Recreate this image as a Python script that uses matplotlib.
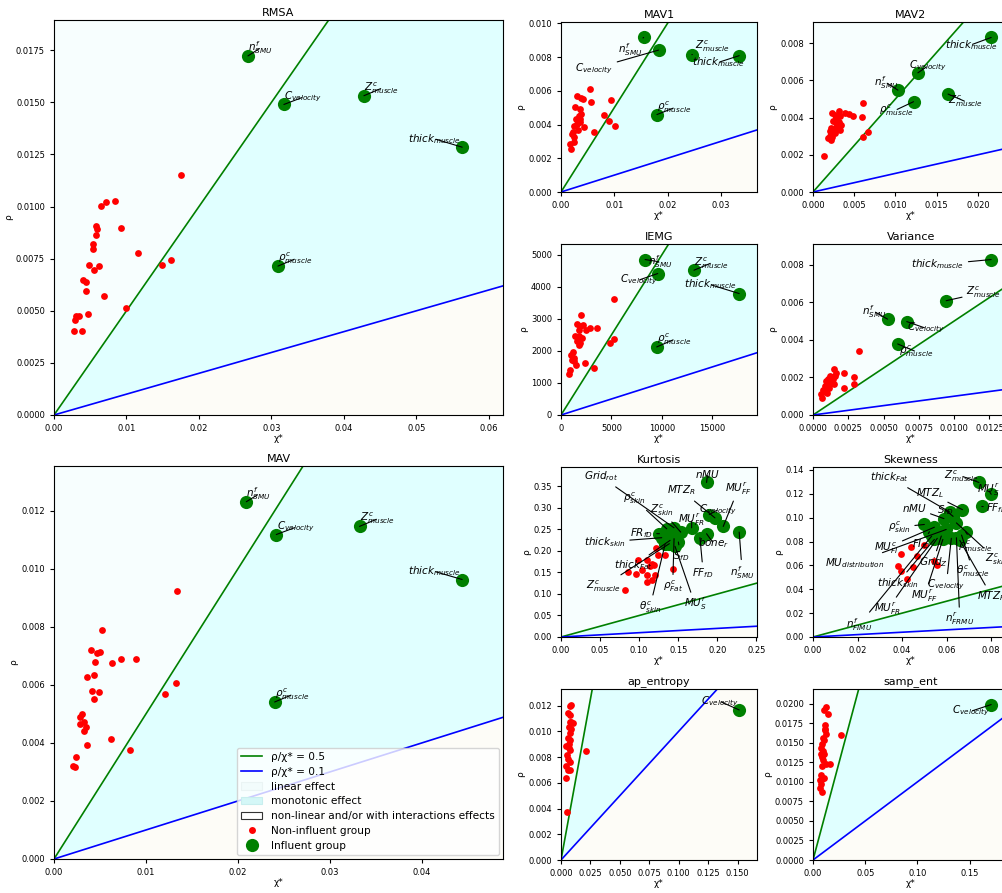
import numpy as np
import matplotlib
matplotlib.use("Agg")
import matplotlib.pyplot as plt
from matplotlib.lines import Line2D
from matplotlib.patches import Patch
from matplotlib.ticker import MultipleLocator

# ---------------------------------------------------------------- data
L_NSMU = r"$n^{f}_{SMU}$"
L_CVEL = r"$C_{velocity}$"
L_ZMUS = r"$Z^{c}_{muscle}$"
L_THM = r"$thick_{muscle}$"
L_RHOM = r"$\rho^{c}_{muscle}$"

# RMSA
rmsa_red_x = [0.01747, 0.00841, 0.00717, 0.00653, 0.00929, 0.00584, 0.00598, 0.00584, 0.00538,
              0.00543, 0.01154, 0.01609, 0.0149, 0.00483, 0.00621, 0.00552, 0.00400, 0.00437,
              0.00437, 0.0069, 0.00993, 0.00469, 0.00345, 0.00308, 0.00294, 0.00271, 0.0039]
rmsa_red_y = [0.01153, 0.01029, 0.01024, 0.01004, 0.00898, 0.00907, 0.00891, 0.00865, 0.00819,
              0.00798, 0.00776, 0.00745, 0.00719, 0.00718, 0.00716, 0.00695, 0.0065, 0.00637,
              0.00597, 0.00572, 0.00512, 0.00483, 0.00477, 0.00474, 0.00454, 0.00403, 0.00405]
rmsa_green_x = [0.02676, 0.03172, 0.04276, 0.05632, 0.0309]
rmsa_green_y = [0.01723, 0.01490, 0.01532, 0.01285, 0.007145]
rmsa_labels = [L_NSMU, L_CVEL, L_ZMUS, L_THM, L_RHOM]

# MAV
mav_red_x = [0.01337, 0.00522, 0.00399, 0.00467, 0.00496, 0.00446, 0.0063, 0.00728, 0.00895,
             0.00362, 0.00431, 0.00409, 0.00486, 0.00438, 0.01203, 0.0133, 0.00308, 0.00279,
             0.00286, 0.00322, 0.00351, 0.0033, 0.00362, 0.00623, 0.00826, 0.00236, 0.00207, 0.00225]
mav_red_y = [0.00922, 0.0079, 0.00719, 0.0071, 0.00712, 0.0068, 0.00677, 0.0069, 0.0069,
             0.00627, 0.00633, 0.00579, 0.00576, 0.00551, 0.00569, 0.00606, 0.005, 0.00488,
             0.00465, 0.00471, 0.00455, 0.0044, 0.00393, 0.00412, 0.00374, 0.00351, 0.00321, 0.00317]
mav_green_x = [0.02091, 0.02417, 0.03322, 0.04438, 0.02399]
mav_green_y = [0.01231, 0.01118, 0.01146, 0.00963, 0.00541]
mav_labels = [L_NSMU, L_CVEL, L_ZMUS, L_THM, L_RHOM]

# MAV1
mav1_red_x = [0.00538, 0.00556, 0.003, 0.00381, 0.00413, 0.00944, 0.00256, 0.0035, 0.00381,
              0.00331, 0.00288, 0.00363, 0.008, 0.00906, 0.01019, 0.00438, 0.00238, 0.00319,
              0.00613, 0.00206, 0.00238, 0.0025, 0.00175, 0.00188, 0.003, 0.0035, 0.00225]
mav1_red_y = [0.00612, 0.00531, 0.00569, 0.00559, 0.00551, 0.00547, 0.00504, 0.00494, 0.00465,
              0.00449, 0.00435, 0.00435, 0.00459, 0.0042, 0.0039, 0.00386, 0.0039, 0.00367,
              0.00355, 0.00341, 0.00324, 0.00294, 0.00282, 0.00255, 0.00402, 0.00416, 0.00357]
mav1_green_x = [0.0155, 0.01831, 0.02456, 0.03344, 0.018]
mav1_green_y = [0.00916, 0.00841, 0.00814, 0.00808, 0.00459]
mav1_labels = [L_NSMU, L_CVEL, L_ZMUS, L_THM, L_RHOM]

# MAV2
mav2_red_x = [0.00133, 0.00604, 0.00596, 0.00664, 0.00604, 0.0031, 0.00233, 0.00262, 0.00386,
              0.00435, 0.00491, 0.00322, 0.00282, 0.00241, 0.00314, 0.00274, 0.00302, 0.00221,
              0.00282, 0.00209, 0.00322, 0.00262, 0.00201, 0.00233, 0.00213, 0.00181, 0.00342]
mav2_red_y = [0.00196, 0.00476, 0.00404, 0.00324, 0.00294, 0.00435, 0.00422, 0.00413, 0.00422,
              0.00419, 0.00408, 0.00408, 0.00396, 0.00383, 0.00378, 0.00369, 0.00355, 0.00342,
              0.00342, 0.0033, 0.00333, 0.00319, 0.00301, 0.00294, 0.0028, 0.00289, 0.0036]
mav2_green_x = [0.0103, 0.01272, 0.01638, 0.02161, 0.01219]
mav2_green_y = [0.00547, 0.0064, 0.00526, 0.0083, 0.00485]
mav2_labels = [L_NSMU, L_CVEL, L_ZMUS, L_THM, L_RHOM]

# IEMG
iemg_red_x = [5275, 2011, 1583, 1912, 2176, 1747, 2506, 2901, 3561, 1418, 1747, 2077, 1583, 1912,
              1747, 4814, 5275, 1187, 989, 1319, 1088, 2407, 1451, 3231, 857, 758, 1319]
iemg_red_y = [3635, 3115, 2833, 2771, 2802, 2646, 2667, 2729, 2719, 2469, 2469, 2417, 2313, 2260,
              2177, 2250, 2385, 1969, 1865, 1792, 1729, 1625, 1552, 1479, 1396, 1271, 1688]
iemg_green_x = [8341, 9594, 13188, 17672, 9495]
iemg_green_y = [4854, 4417, 4521, 3792, 2125]
iemg_labels = [L_NSMU, L_CVEL, L_ZMUS, L_THM, L_RHOM]

# Variance
var_red_x = [0.00324, 0.0015, 0.00223, 0.00288, 0.00288, 0.00218, 0.00164, 0.00122, 0.00145,
             0.00094, 0.00117, 0.00152, 0.00082, 0.00113, 0.0007, 0.00098, 0.00059, 0.00066,
             0.00129, 0.00106, 0.00087, 0.00159]
var_red_y = [0.0034, 0.00244, 0.00221, 0.002, 0.00167, 0.00146, 0.00221, 0.00208, 0.00191,
             0.0018, 0.00167, 0.00167, 0.00155, 0.00141, 0.00132, 0.00119, 0.0011, 0.00093,
             0.002, 0.00194, 0.00128, 0.00207]
var_green_x = [0.00528, 0.00664, 0.00943, 0.01262, 0.006]
var_green_y = [0.0051, 0.00497, 0.00608, 0.00827, 0.00378]
var_labels = [L_NSMU, L_CVEL, L_ZMUS, L_THM, L_RHOM]

# Kurtosis
kurt_red_x = [0.0821, 0.0863, 0.0961, 0.1033, 0.1097, 0.1105, 0.1161, 0.1203, 0.0991, 0.1105,
              0.1161, 0.1212, 0.1246, 0.1331, 0.1437, 0.119, 0.1139]
kurt_red_y = [0.1092, 0.15, 0.1454, 0.1554, 0.1438, 0.1285, 0.1323, 0.1438, 0.1785, 0.1785,
              0.1708, 0.2077, 0.19, 0.19, 0.1577, 0.1669, 0.1654]
kurt_green_x = [0.1862, 0.1896, 0.1969, 0.2075, 0.2279, 0.1862, 0.1777, 0.1671, 0.1446, 0.1352,
                0.1531, 0.1259, 0.1288, 0.1395, 0.1446, 0.1501, 0.1331, 0.1458, 0.1386]
kurt_green_y = [0.3592, 0.2846, 0.2769, 0.2569, 0.2438, 0.24, 0.2308, 0.2538, 0.2538, 0.2515,
                0.2438, 0.24, 0.2308, 0.2246, 0.2285, 0.2208, 0.2154, 0.2108, 0.2169]
kurt_labels = [r"$nMU$", L_CVEL, r"$MTZ_{R}$", r"$MU^{r}_{FF}$", L_NSMU, r"$bone_{r}$",
               r"$FF_{fD}$", r"$MU^{r}_{FR}$", r"$Grid_{rot}$", r"$\rho^{c}_{skin}$",
               r"$Z^{c}_{skin}$", r"$FR_{fD}$", r"$thick_{skin}$", r"$thick_{Fat}$",
               r"$\rho^{c}_{Fat}$", r"$S_{fD}$", r"$\theta^{c}_{skin}$", r"$MU^{r}_{S}$", L_ZMUS]

# Skewness
skew_red_x = [0.0397, 0.0442, 0.05, 0.0465, 0.0383, 0.0394, 0.0447, 0.0421, 0.0545, 0.0558]
skew_red_y = [0.0694, 0.0755, 0.0772, 0.0681, 0.0593, 0.0551, 0.059, 0.0488, 0.0634, 0.0606]
skew_green_x = [0.0745, 0.08, 0.0758, 0.0614, 0.0671, 0.0588, 0.0629, 0.05, 0.0545, 0.0523,
                0.0685, 0.0598, 0.0576, 0.0667, 0.0644, 0.0545, 0.0621, 0.0659, 0.0583, 0.0558,
                0.0644, 0.0533]
skew_green_y = [0.1295, 0.1196, 0.1094, 0.1047, 0.1067, 0.0992, 0.1011, 0.0943, 0.092, 0.0882,
                0.0882, 0.0901, 0.0846, 0.0854, 0.0956, 0.0818, 0.0827, 0.081, 0.0818, 0.0827,
                0.0832, 0.0846]
skew_labels = [L_ZMUS, r"$MU^{r}_{S}$", r"$FF_{fD}$", r"$thick_{Fat}$", r"$MTZ_{L}$", r"$nMU$",
               r"$S_{fD}$", r"$\rho^{c}_{skin}$", r"$MU^{c}_{FI}$", r"$FI_{fD}$", L_RHOM,
               r"$MU_{distribution}$", r"$Grid_{Z}$", r"$\theta^{c}_{muscle}$", r"$Z^{c}_{skin}$",
               r"$thick_{skin}$", L_CVEL, r"$MTZ_{R}$", r"$MU^{r}_{FF}$", r"$MU^{r}_{FR}$",
               r"$n^{r}_{FRMU}$", r"$n^{f}_{FIMU}$"]

# ap_entropy
ape_red_x = [0.0085, 0.0074, 0.0057, 0.008, 0.0074, 0.0102, 0.0065, 0.0085, 0.0074, 0.0057,
             0.008, 0.0045, 0.0068, 0.008, 0.0051, 0.0074, 0.0045, 0.008, 0.0057, 0.0045,
             0.0216, 0.0051, 0.0065, 0.0085, 0.0063]
ape_red_y = [0.01208, 0.012, 0.01141, 0.01123, 0.01071, 0.01068, 0.01032, 0.01019, 0.00986,
             0.0095, 0.00929, 0.00883, 0.00872, 0.00852, 0.00813, 0.00761, 0.00728, 0.00702,
             0.00697, 0.0064, 0.00846, 0.00374, 0.00903, 0.01071, 0.00787]
ape_green_x = [0.1514]
ape_green_y = [0.01166]
ape_labels = [L_CVEL]

# samp_ent
se_red_x = [0.0127, 0.0105, 0.0143, 0.0114, 0.0118, 0.0127, 0.0264, 0.0102, 0.0089, 0.0079,
            0.0095, 0.0102, 0.0086, 0.0095, 0.0159, 0.0127, 0.0083, 0.0079, 0.0102, 0.0064,
            0.0079, 0.007, 0.0086, 0.0111, 0.0095, 0.0073, 0.0089]
se_red_y = [0.01957, 0.01915, 0.01872, 0.01723, 0.0166, 0.01617, 0.01604, 0.01532, 0.01489,
            0.01438, 0.01396, 0.01353, 0.01319, 0.01277, 0.01234, 0.01226, 0.012, 0.01085,
            0.01055, 0.01021, 0.00979, 0.00923, 0.00872, 0.01681, 0.01566, 0.01362, 0.01043]
se_green_x = [0.1707]
se_green_y = [0.01991]
se_labels = [L_CVEL]

# ---------------------------------------------------------------- layout (label offsets, points)
rmsa_off = [(9.1, 5.8), (13.9, 5.3), (13, 5.5), (-19.9, 6), (12.7, 5.3)]
mav_off = [(8.9, 5.5), (14.2, 5.3), (13, 5.5), (-19.9, 5.8), (12.7, 5.3)]
mav1_off = [(-9.6, -8.4), (-46.3, -13.2), (14.9, 5.8), (-14.9, -4.8), (12.7, 5)]
mav2_off = [(-8.6, 5.5), (7, 4.8), (12.7, -5.5), (-14.4, -5.3), (-12.7, -6)]
iemg_off = [(10.8, -1.7), (-13.9, -4.8), (12.7, 5.3), (-21, 6.5), (12.7, 5.5)]
var_off = [(-9.6, 5.5), (13.7, -4.8), (27, 6), (-38.4, -3.6), (13, -5.5)]
kurt_off = [(0.7, 6), (6.5, 3.6), (-24, 19.7), (10.8, 27), (2.2, -28.8), (4.8, -6.7),
            (2.4, -25.4), (0, 5.8), (-52.8, 37), (-23.5, 21.6), (-13.7, 15.6), (-13.2, 0.5),
            (-40.8, -3.1), (-26, -18), (-1, -34.3), (1.7, -10), (-10.8, -45), (14.4, -41.8),
            (-47.5, -30.5)]
skew_off = [(-12.5, 4.6), (-1.9, 3.1), (10.8, -1.2), (-43.2, 25), (-23.5, 12), (-21.6, 7.7),
            (-6, 4.8), (-18, -1.9), (-34.8, -14.9), (-6, -9.1), (6.7, -10.3), (-66, -24),
            (-6, -18.5), (8.4, -26.4), (28.8, -26.4), (-26.4, -31.2), (-3.6, -33.6),
            (22.8, -40), (-13.2, -40.8), (-35.5, -51), (2.4, -58.8), (-52, -63.6)]
ape_off = [(-13.9, 6.2)]
se_off = [(-14.4, -4.8)]

W, H = 1003, 893
LIN_C = "#F7FEFE"
MONO_C = "#E0FFFF"
NONLIN_C = "#FDFCF7"

fig = plt.figure(figsize=(W / 100, H / 100), dpi=100)


def px_axes(left, top, right, bottom):
    return fig.add_axes([left / W, 1 - bottom / H, (right - left) / W, (bottom - top) / H])


def panel(ax, title, rx, ry, gx, gy, labels, offs, xstep, ystep):
    xmax = 1.1 * max(max(rx), max(gx))
    ymax = 1.1 * max(max(ry), max(gy))
    xs = np.linspace(0, xmax, 400)
    ax.fill_between(xs, np.minimum(0.5 * xs, ymax), ymax, color=LIN_C, lw=0, zorder=0)
    ax.fill_between(xs, 0.1 * xs, 0.5 * xs, color=MONO_C, lw=0, zorder=0)
    ax.fill_between(xs, 0, 0.1 * xs, color=NONLIN_C, lw=0, zorder=0)
    ax.plot(xs, 0.5 * xs, color="green", lw=1.2, zorder=1)
    ax.plot(xs, 0.1 * xs, color="blue", lw=1.2, zorder=1)
    ax.scatter(rx, ry, s=24, color="red", zorder=2, linewidths=0)
    ax.scatter(gx, gy, s=90, color="green", zorder=2, linewidths=0)
    for x, y, lab, (dx, dy) in zip(gx, gy, labels, offs):
        ax.annotate(lab, (x, y), xytext=(dx, dy), textcoords="offset points",
                    ha="center", va="center", fontsize=7.5, zorder=3,
                    arrowprops=dict(arrowstyle="-", color="k", lw=0.8,
                                    shrinkA=1, shrinkB=0))
    ax.set_xlim(0, xmax)
    ax.set_ylim(0, ymax)
    ax.xaxis.set_major_locator(MultipleLocator(xstep))
    ax.yaxis.set_major_locator(MultipleLocator(ystep))
    ax.tick_params(labelsize=6, length=3, width=0.8)
    ax.set_title(title, fontsize=8, pad=3)
    ax.set_xlabel("χ*", fontsize=6.5, labelpad=1)
    ax.set_ylabel("ρ", fontsize=6.5, labelpad=2)


ax_rmsa = px_axes(54, 20, 503, 415)
panel(ax_rmsa, "RMSA", rmsa_red_x, rmsa_red_y, rmsa_green_x, rmsa_green_y, rmsa_labels, rmsa_off, 0.01, 0.0025)
ax_mav = px_axes(54, 466, 503, 859)
panel(ax_mav, "MAV", mav_red_x, mav_red_y, mav_green_x, mav_green_y, mav_labels, mav_off, 0.01, 0.002)

c2 = (561, 757)
c3 = (813, 1009)
rows = [(22, 192), (244, 415), (467, 637), (689, 860)]

a = px_axes(c2[0], rows[0][0], c2[1], rows[0][1])
panel(a, "MAV1", mav1_red_x, mav1_red_y, mav1_green_x, mav1_green_y, mav1_labels, mav1_off, 0.01, 0.002)
a = px_axes(c3[0], rows[0][0], c3[1], rows[0][1])
panel(a, "MAV2", mav2_red_x, mav2_red_y, mav2_green_x, mav2_green_y, mav2_labels, mav2_off, 0.005, 0.002)
a = px_axes(c2[0], rows[1][0], c2[1], rows[1][1])
panel(a, "IEMG", iemg_red_x, iemg_red_y, iemg_green_x, iemg_green_y, iemg_labels, iemg_off, 5000, 1000)
a = px_axes(c3[0], rows[1][0], c3[1], rows[1][1])
panel(a, "Variance", var_red_x, var_red_y, var_green_x, var_green_y, var_labels, var_off, 0.0025, 0.002)
a = px_axes(c2[0], rows[2][0], c2[1], rows[2][1])
panel(a, "Kurtosis", kurt_red_x, kurt_red_y, kurt_green_x, kurt_green_y, kurt_labels, kurt_off, 0.05, 0.05)
a = px_axes(c3[0], rows[2][0], c3[1], rows[2][1])
panel(a, "Skewness", skew_red_x, skew_red_y, skew_green_x, skew_green_y, skew_labels, skew_off, 0.02, 0.02)
a = px_axes(c2[0], rows[3][0], c2[1], rows[3][1])
panel(a, "ap_entropy", ape_red_x, ape_red_y, ape_green_x, ape_green_y, ape_labels, ape_off, 0.025, 0.002)
a = px_axes(c3[0], rows[3][0], c3[1], rows[3][1])
panel(a, "samp_ent", se_red_x, se_red_y, se_green_x, se_green_y, se_labels, se_off, 0.05, 0.0025)

handles = [
    Line2D([], [], color="green", lw=1.2, label="ρ/χ* = 0.5"),
    Line2D([], [], color="blue", lw=1.2, label="ρ/χ* = 0.1"),
    Patch(facecolor="#F2FCFC", edgecolor="#EAF4F4", lw=0.8, label="linear effect"),
    Patch(facecolor="#D4F7F7", edgecolor="#C8EEEE", lw=0.8, label="monotonic effect"),
    Patch(facecolor="white", edgecolor="#333333", lw=0.8, label="non-linear and/or with interactions effects"),
    Line2D([], [], color="red", marker="o", ls="", markersize=5, markeredgewidth=0, label="Non-influent group"),
    Line2D([], [], color="green", marker="o", ls="", markersize=9.5, markeredgewidth=0, label="Influent group"),
]
ax_mav.legend(handles=handles, loc="lower right", fontsize=7.6, labelspacing=0.45,
              borderaxespad=0.4)

fig.savefig("out.png", dpi=100)
